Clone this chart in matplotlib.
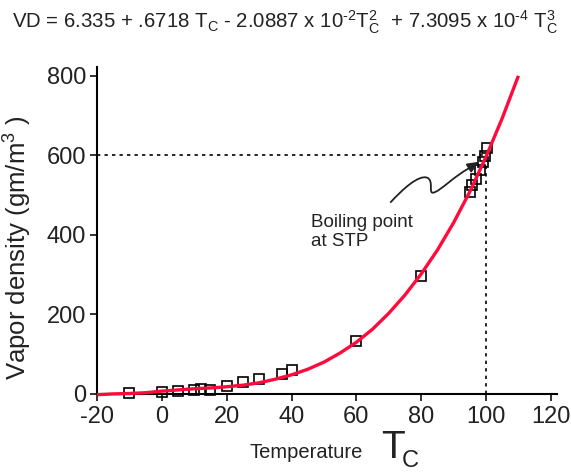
import matplotlib
matplotlib.use("Agg")
import matplotlib.pyplot as plt
from matplotlib.path import Path
from matplotlib.patches import PathPatch

plt.rcParams['font.family'] = ['Liberation Sans', 'DejaVu Sans']
plt.rcParams['mathtext.fontset'] = 'custom'
plt.rcParams['mathtext.rm'] = 'Liberation Sans'
plt.rcParams['mathtext.it'] = 'Liberation Sans'
plt.rcParams['mathtext.bf'] = 'Liberation Sans:bold'
plt.rcParams['axes.unicode_minus'] = False

# measured data (squares)
meas_T = [-10, 0, 5, 10, 12, 15, 20, 25, 30, 37, 40, 60, 80,
          95, 95.6, 96.9, 98.2, 99.2, 99.7, 100.4]
meas_VD = [2, 5, 7, 9, 11, 8, 18, 28, 37, 49, 60, 133, 297,
           507, 526, 541, 563, 584, 597, 618]

# fitted curve
fit_T = [-20, -15, -10, -5, 0, 5, 10, 15, 20, 25, 30, 35, 40, 45, 50, 55,
         60, 65, 70, 75, 80, 85, 90, 95, 100, 105, 110]
fit_VD = [-3, -1, 0, 2, 6, 9, 12, 14, 17, 21, 27, 36, 47, 61, 79, 102,
          129, 162, 202, 248, 301, 361, 430, 508, 596, 693, 800]

boil_T = 100
boil_VD = 600

x_ticks = [-20, 0, 20, 40, 60, 80, 100, 120]
y_ticks = [0, 200, 400, 600, 800]

fig = plt.figure(figsize=(5.71, 4.72), dpi=100)
ax = fig.add_axes([0.1699, 0.1663, 0.8056, 0.6917])
ax.set_xlim(-20, 121.9)
ax.set_ylim(0, 822)

for s in ['top', 'right']:
    ax.spines[s].set_visible(False)
for s in ['left', 'bottom']:
    ax.spines[s].set_linewidth(1.5)

ax.set_xticks(x_ticks)
ax.set_yticks(y_ticks)
ax.tick_params(direction='out', length=5, width=1.3, labelsize=17, pad=3,
               colors='#222222')
ax.tick_params(axis='x', pad=4)

# dotted guides
ax.plot([-20, boil_T], [boil_VD, boil_VD], color='black', lw=1.2,
        linestyle=(0, (2, 2.5)), zorder=2)
ax.plot([boil_T, boil_T], [0, boil_VD], color='black', lw=1.2,
        linestyle=(0, (2, 2.5)), zorder=2)

# squares
ax.plot(meas_T, meas_VD, linestyle='none', marker='s', markersize=7.5,
        markerfacecolor='none', markeredgecolor='black', markeredgewidth=1.2,
        zorder=3, clip_on=False)

# fit curve
ax.plot(fit_T, fit_VD, color='#FF0A3C', lw=2.4, zorder=4, clip_on=False,
        solid_capstyle='butt')

# squiggly annotation arrow
verts = [(70.46, 480.5),
         (74.15, 513.2), (79.08, 551.0), (81.85, 543.4),
         (84.0, 535.8), (82.15, 503.0), (83.7, 505.7),
         (85.85, 508.2), (90.46, 551.0), (96.0, 572.5)]
codes = [Path.MOVETO] + [Path.CURVE4] * 9
ax.add_patch(PathPatch(Path(verts, codes), facecolor='none',
                       edgecolor='#222222', lw=1.3, zorder=5))
ax.annotate('', xy=(97.9, 583.6), xytext=(95.0, 569.0),
            arrowprops=dict(arrowstyle='-|>,head_length=0.7,head_width=0.3',
                            color='#222222', lw=1.3, shrinkA=0, shrinkB=0),
            zorder=5)

ax.text(46.0, 453, 'Boiling point\nat STP', fontsize=13.5, ha='left',
        va='top', linespacing=1.15, color='#222222')

# labels
fig.text(0.031, 0.475, 'Vapor density (gm/m$^3$ )', rotation=90, fontsize=18.5,
         ha='center', va='center', color='#222222')
fig.text(0.437, 0.03, 'Temperature', fontsize=14.5, ha='left',
         va='baseline', color='#222222')
fig.text(0.668, 0.03, 'T', fontsize=28, ha='left',
         va='baseline', color='#222222')
fig.text(0.703, 0.01, 'C', fontsize=17, ha='left',
         va='baseline', color='#222222')

fig.text(0.5, 0.94,
         r'VD = 6.335 + .6718 T$_\mathrm{C}$ - 2.0887 x 10$^{\text{-2}}$T$_\mathrm{C}^2$'
         r'  + 7.3095 x 10$^{\text{-4}}$ T$_\mathrm{C}^3$',
         fontsize=14.7, ha='center', va='baseline', color='#222222')

fig.savefig('out.png', dpi=100)
